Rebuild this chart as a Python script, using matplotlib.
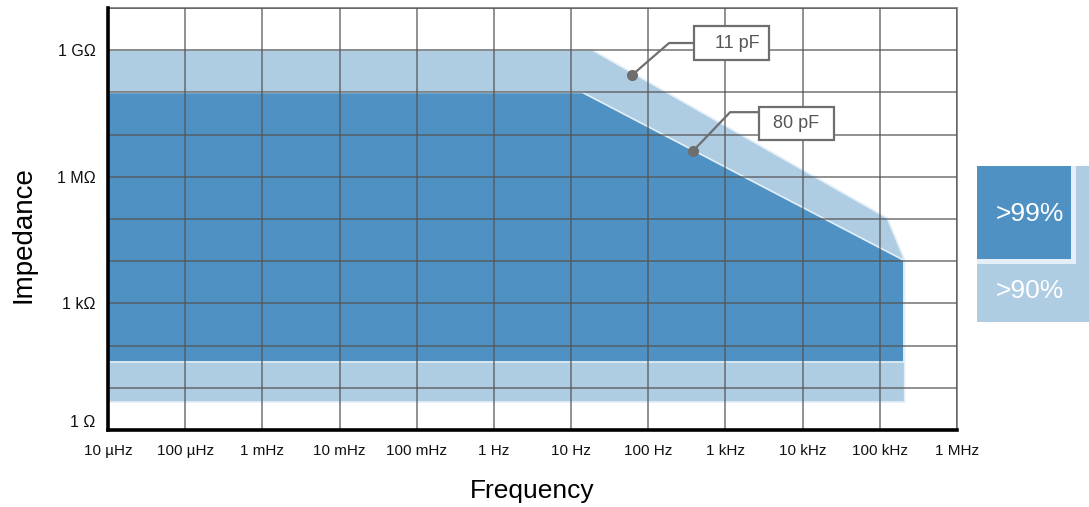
import numpy as np
import matplotlib
matplotlib.use("Agg")
import matplotlib.pyplot as plt
from matplotlib.patches import Polygon, Rectangle
from matplotlib.ticker import FixedLocator, NullFormatter

plt.rcParams['font.family'] = ['Liberation Sans', 'DejaVu Sans']

# frequency axis (Hz) and labels
freq_ticks = [1e-5, 1e-4, 1e-3, 1e-2, 1e-1, 1, 1e1, 1e2, 1e3, 1e4, 1e5, 1e6]
freq_labels = ['10 µHz', '100 µHz', '1 mHz', '10 mHz', '100 mHz', '1 Hz',
               '10 Hz', '100 Hz', '1 kHz', '10 kHz', '100 kHz', '1 MHz']

# impedance axis (Ohm)
imp_ticks = [1, 1e3, 1e6, 1e9]
imp_labels = ['1 Ω', '1 kΩ', '1 MΩ', '1 GΩ']
imp_grid = [10.0 ** k for k in range(0, 11)]

# >90% accuracy region (outline, freq / impedance)
light_f = [1e-5, 19, 1.25e5, 2.1e5, 2.1e5, 1e-5]
light_z = [1e9, 1e9, 1.05e5, 1.05e4, 4.6, 4.6]

# >99% accuracy region
dark_f = [1e-5, 14, 2.05e5, 2.05e5, 1e-5]
dark_z = [1e8, 1e8, 1.05e4, 41, 41]

# capacitance call-outs: dot, elbow, end of leader, box corners, text pos
callouts = [
    dict(label='11 pF', dot=(62, 2.6e8), elbow=(186, 1.48e9), end=(390, 1.48e9),
         box=(390, 3650, 5.86e8, 3.74e9), text=(1405, 1.48e9)),
    dict(label='80 pF', dot=(380, 4.1e6), elbow=(1150, 3.4e7), end=(2710, 3.4e7),
         box=(2710, 25350, 7.45e6, 4.5e7), text=(8280, 1.85e7)),
]

dark_col = '#5091c3'
light_col = '#aecde3'
edge_col = '#e4eff8'
gray = '#6e6e6e'

fig = plt.figure(figsize=(10.89, 5.07), dpi=100)
ax = fig.add_axes([108 / 1089, 1 - 430 / 507, (957 - 108) / 1089, (430 - 8) / 507])
ax.set_xscale('log')
ax.set_yscale('log')
ax.set_xlim(1e-5, 1e6)
ax.set_ylim(1, 1e10)

ax.add_patch(Polygon(np.column_stack([light_f, light_z]), closed=True,
                     facecolor=light_col, edgecolor=edge_col, lw=1.2, zorder=1))
ax.add_patch(Polygon(np.column_stack([dark_f, dark_z]), closed=True,
                     facecolor=dark_col, edgecolor=edge_col, lw=1.2, zorder=1.1))

ax.xaxis.set_major_locator(FixedLocator(freq_ticks))
ax.set_xticklabels(freq_labels)
ax.xaxis.set_minor_formatter(NullFormatter())
ax.xaxis.set_minor_locator(FixedLocator([]))
ax.yaxis.set_major_locator(FixedLocator(imp_ticks))
ax.set_yticklabels(imp_labels)
ax.yaxis.set_minor_locator(FixedLocator(imp_grid))
ax.yaxis.set_minor_formatter(NullFormatter())

ax.set_axisbelow(False)
ax.grid(True, which='both', color='#555555', alpha=0.65, lw=1.4)
ax.tick_params(which='both', length=0, colors='#111111')
ax.tick_params(axis='x', pad=10, labelsize=11)
ax.tick_params(axis='y', pad=9, labelsize=11.5)
ax.get_yticklabels()[0].set_va('bottom')

for s in ['top', 'right']:
    ax.spines[s].set_color('#8a8a8a')
    ax.spines[s].set_linewidth(1.4)
for s in ['left', 'bottom']:
    ax.spines[s].set_color('black')
    ax.spines[s].set_linewidth(2.6)
    ax.spines[s].set_zorder(4)

ax.set_xlabel('Frequency', fontsize=19, labelpad=15)
ax.set_ylabel('Impedance', fontsize=20)
ax.yaxis.set_label_coords(-0.084, 0.464)

for c in callouts:
    xs = [c['dot'][0], c['elbow'][0], c['end'][0]]
    ys = [c['dot'][1], c['elbow'][1], c['end'][1]]
    ax.plot(xs, ys, color=gray, lw=1.6, zorder=5, solid_capstyle='butt')
    ax.plot(*c['dot'], 'o', color=gray, ms=7, zorder=6)
    x0, x1, y0, y1 = c['box']
    ax.add_patch(Rectangle((x0, y0), x1 - x0, y1 - y0, facecolor='white',
                           edgecolor=gray, lw=1.6, zorder=6))
    ax.text(c['text'][0], c['text'][1], c['label'], fontsize=13, color='#555555',
            ha='center', va='center', zorder=7)

# legend blocks on the right
W, H = 1089, 507
def px_rect(x0, y0, x1, y1, **kw):
    fig.patches.append(Rectangle((x0 / W, 1 - y1 / H), (x1 - x0) / W, (y1 - y0) / H,
                                 transform=fig.transFigure, figure=fig, **kw))

px_rect(977, 166, 1089, 322, facecolor=light_col, edgecolor='none')
px_rect(977, 166, 1076, 264, facecolor=edge_col, edgecolor='none')
px_rect(977, 166, 1071, 259, facecolor=dark_col, edgecolor='none')
fig.text(1030 / W, 1 - 214 / H, '>99%', color='white', fontsize=19, ha='center', va='center')
fig.text(1030 / W, 1 - 291 / H, '>90%', color='white', fontsize=19, ha='center', va='center')

fig.savefig('out.png', dpi=100)
